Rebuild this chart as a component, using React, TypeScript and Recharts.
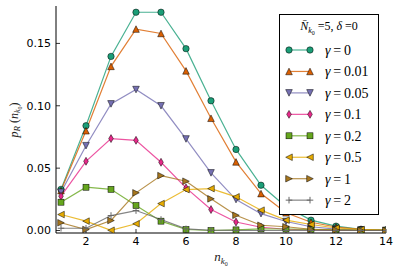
import React from "react";
import { LineChart, Line, XAxis, YAxis, Legend } from "recharts";

const nValues = [1, 2, 3, 4, 5, 6, 7, 8, 9, 10, 11, 12, 13, 14];
const xTicks = [2, 4, 6, 8, 10, 12, 14];
const yTicks = [0, 0.05, 0.1, 0.15];

const gamma0 = [0.033, 0.084, 0.1396, 0.175, 0.175, 0.1458, 0.104, 0.065, 0.0363, 0.019, 0.0083, 0.0035, 0.001, 0.0004];
const gamma001 = [0.032, 0.080, 0.1316, 0.1615, 0.158, 0.128, 0.090, 0.055, 0.0296, 0.0142, 0.0066, 0.0028, 0.0009, 0.0003];
const gamma005 = [0.0307, 0.068, 0.1015, 0.113, 0.100, 0.0734, 0.0462, 0.0248, 0.0135, 0.0072, 0.003, 0.0011, 0.0004, 0.0001];
const gamma01 = [0.0275, 0.0555, 0.0737, 0.0723, 0.0547, 0.0342, 0.0168, 0.0068, 0.0026, 0.001, 0.0004, 0.0001, 0.0, 0.0];
const gamma02 = [0.0227, 0.0347, 0.0330, 0.020, 0.0075, 0.0008, 0.0, 0.0005, 0.0013, 0.0012, 0.0009, 0.0006, 0.0003, 0.0002];
const gamma05 = [0.0128, 0.0075, 0.0002, 0.0054, 0.0216, 0.0328, 0.0336, 0.027, 0.0163, 0.0083, 0.0048, 0.002, 0.0008, 0.0002];
const gamma1 = [0.0062, 0.0008, 0.008, 0.0302, 0.044, 0.0395, 0.0254, 0.0122, 0.0042, 0.003, 0.001, 0.0004, 0.0001, 0.0];
const gamma2 = [0.0018, 0.0018, 0.012, 0.016, 0.0088, 0.0013, 0.0002, 0.0001, 0.0, 0.0, 0.0, 0.0, 0.0, 0.0];

const seriesLabels = ["0", "0.01", "0.05", "0.1", "0.2", "0.5", "1", "2"];
const seriesValues = [gamma0, gamma001, gamma005, gamma01, gamma02, gamma05, gamma1, gamma2];
const seriesColors = ["#1b9e77", "#d95f02", "#7570b3", "#e7298a", "#66a61e", "#e6ab02", "#a6761d", "#666666"];
const seriesShapes = ["circle", "up", "down", "diamond", "square", "left", "right", "plus"];

const data = nValues.map((n, i) => {
  const row: any = { n };
  seriesValues.forEach((vals, s) => {
    row["s" + s] = vals[i];
  });
  return row;
});

function Marker({ shape, cx, cy, color }: { shape: string; cx: number; cy: number; color: string }) {
  const h = 3.3;
  const common = { fill: color, stroke: "#000", strokeWidth: 0.5 };
  switch (shape) {
    case "circle":
      return <circle cx={cx} cy={cy} r={3.2} {...common} />;
    case "up":
      return <polygon points={`${cx},${cy - h} ${cx - h},${cy + h} ${cx + h},${cy + h}`} {...common} />;
    case "down":
      return <polygon points={`${cx},${cy + h} ${cx - h},${cy - h} ${cx + h},${cy - h}`} {...common} />;
    case "left":
      return <polygon points={`${cx - h},${cy} ${cx + h},${cy - h} ${cx + h},${cy + h}`} {...common} />;
    case "right":
      return <polygon points={`${cx + h},${cy} ${cx - h},${cy - h} ${cx - h},${cy + h}`} {...common} />;
    case "diamond":
      return (
        <polygon
          points={`${cx},${cy - h * 1.2} ${cx + h * 0.7},${cy} ${cx},${cy + h * 1.2} ${cx - h * 0.7},${cy}`}
          {...common}
        />
      );
    case "square":
      return <rect x={cx - 3} y={cy - 3} width={6} height={6} {...common} />;
    default:
      return (
        <g stroke={color} strokeWidth={1}>
          <line x1={cx - h} y1={cy} x2={cx + h} y2={cy} />
          <line x1={cx} y1={cy - h} x2={cx} y2={cy + h} />
        </g>
      );
  }
}

function LegendBox() {
  const rowY = (i: number) => 36 + i * 21.45;
  return (
    <svg width={100} height={201} style={{ display: "block" }}>
      <rect x={0.5} y={0.5} width={99} height={200} fill="#fff" stroke="#000" strokeWidth={1} />
      <text x={50} y={16} textAnchor="middle" fontFamily="'Liberation Serif', serif" fontSize={12} fill="#000">
        <tspan fontStyle="italic">{"N\u0304"}</tspan>
        <tspan fontStyle="italic" fontSize={8} dy={3}>k</tspan>
        <tspan fontSize={6} dy={2}>0</tspan>
        <tspan dy={-5}>{" =5, "}</tspan>
        <tspan fontStyle="italic">δ</tspan>
        <tspan>{" =0"}</tspan>
      </text>
      {seriesLabels.map((lab, i) => {
        const y = rowY(i);
        return (
          <g key={lab}>
            <line x1={10} y1={y} x2={31} y2={y} stroke={seriesColors[i]} strokeWidth={1.2} strokeOpacity={0.8} />
            <Marker shape={seriesShapes[i]} cx={10} cy={y} color={seriesColors[i]} />
            <Marker shape={seriesShapes[i]} cx={31} cy={y} color={seriesColors[i]} />
            <text x={46} y={y + 5} fontFamily="'Liberation Serif', serif" fontSize={14} fill="#000">
              <tspan fontStyle="italic">γ</tspan>
              <tspan>{"\u2009=\u2009" + lab}</tspan>
            </text>
          </g>
        );
      })}
    </svg>
  );
}

const tickStyle = { fontFamily: "'DejaVu Sans', sans-serif", fontSize: 11, fill: "#000" };
const axisLine = { stroke: "#000", strokeWidth: 1 };
const tickLine = { stroke: "#000", strokeWidth: 0.8 };

function YLabel() {
  return (
    <text transform="translate(18,120) rotate(-90)" textAnchor="middle" fontFamily="'Liberation Serif', serif" fontSize={12} fill="#222">
      <tspan fontStyle="italic">p</tspan>
      <tspan fontStyle="italic" fontSize={9} dy={2}>R</tspan>
      <tspan dy={-2}>{" ("}</tspan>
      <tspan fontStyle="italic">n</tspan>
      <tspan fontStyle="italic" fontSize={8} dy={2}>k</tspan>
      <tspan fontSize={6} dy={2}>0</tspan>
      <tspan dy={-4}>)</tspan>
    </text>
  );
}

function XLabel() {
  return (
    <text x={221} y={261} textAnchor="middle" fontFamily="'Liberation Serif', serif" fontSize={13} fill="#222">
      <tspan fontStyle="italic">n</tspan>
      <tspan fontStyle="italic" fontSize={9} dy={3}>k</tspan>
      <tspan fontSize={6} dy={2}>0</tspan>
    </text>
  );
}

export default function App() {
  return (
    <div style={{ width: 399, height: 271, background: "#fff" }}>
      <style>{"body{margin:0;}"}</style>
      <LineChart width={399} height={271} data={data} margin={{ top: 6, right: 13, left: 0, bottom: 0 }}>
        <XAxis
          xAxisId="b"
          dataKey="n"
          type="number"
          domain={[0.8, 14]}
          ticks={xTicks}
          allowDataOverflow
          height={38}
          tick={tickStyle}
          tickSize={-4}
          tickMargin={8}
          axisLine={axisLine}
          tickLine={tickLine}
          label={() => <XLabel />}
        />
        <XAxis
          xAxisId="t"
          orientation="top"
          dataKey="n"
          type="number"
          domain={[0.8, 14]}
          ticks={xTicks}
          allowDataOverflow
          height={0}
          tick={false}
          tickSize={-4}
          axisLine={axisLine}
          tickLine={tickLine}
        />
        <YAxis
          yAxisId="l"
          type="number"
          domain={[-0.002, 0.18]}
          ticks={yTicks}
          allowDataOverflow
          width={56}
          tick={tickStyle}
          tickSize={-4}
          tickMargin={9}
          tickFormatter={(v: number) => v.toFixed(2)}
          axisLine={axisLine}
          tickLine={tickLine}
          label={() => <YLabel />}
        />
        <YAxis
          yAxisId="r"
          orientation="right"
          type="number"
          domain={[-0.002, 0.18]}
          ticks={yTicks}
          allowDataOverflow
          width={0}
          tick={false}
          tickSize={-4}
          axisLine={axisLine}
          tickLine={tickLine}
        />
        {seriesLabels.map((lab, s) => (
          <Line
            key={lab}
            xAxisId="b"
            yAxisId="l"
            dataKey={"s" + s}
            stroke={seriesColors[s]}
            strokeWidth={1.2}
            strokeOpacity={0.8}
            isAnimationActive={false}
            dot={(p: any) => (
              <g key={`d-${s}-${p.index}`}>
                <Marker shape={seriesShapes[s]} cx={p.cx} cy={p.cy} color={seriesColors[s]} />
              </g>
            )}
            activeDot={false}
          />
        ))}
        <Legend
          layout="vertical"
          align="center"
          verticalAlign="middle"
          content={() => <LegendBox />}
          wrapperStyle={{ position: "absolute", left: 279, top: 14, width: 100, height: 201 }}
        />
      </LineChart>
    </div>
  );
}
